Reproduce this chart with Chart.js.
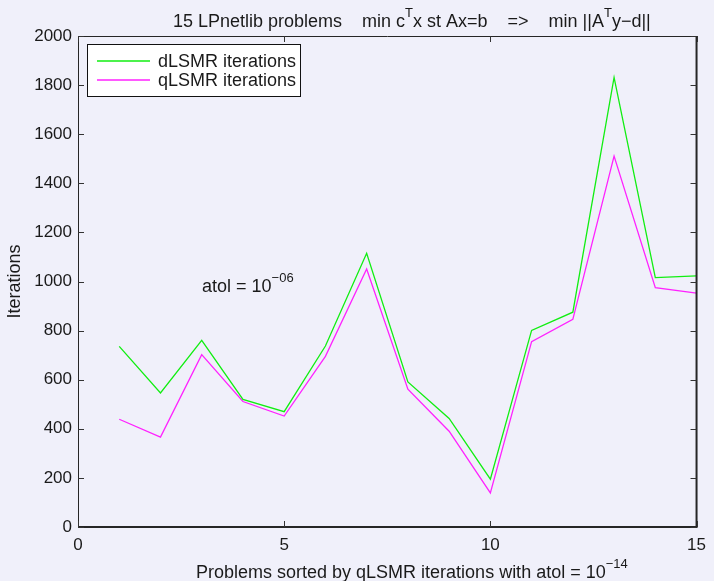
<!DOCTYPE html>
<html>
<head>
<meta charset="utf-8">
<script src="https://cdn.jsdelivr.net/npm/chart.js@4.4.1/dist/chart.umd.min.js"></script>
<style>
  html, body { margin: 0; padding: 0; background: #f0f0fa; }
  #wrap { width: 714px; height: 581px; position: relative; }
</style>
</head>
<body>
<div id="wrap"><canvas id="c" width="714" height="581"></canvas></div>
<script>
// ---- data ----
const problems = [1, 2, 3, 4, 5, 6, 7, 8, 9, 10, 11, 12, 13, 14, 15];
const dLSMR = [736, 546, 760, 520, 470, 737, 1115, 591, 442, 195, 801, 875, 1831, 1016, 1023];
const qLSMR = [439, 366, 702, 511, 452, 695, 1051, 561, 390, 139, 755, 846, 1511, 975, 953];
const seriesNames = ['dLSMR iterations', 'qLSMR iterations'];
const xTickValues = [0, 5, 10, 15];
const yTickValues = [0, 200, 400, 600, 800, 1000, 1200, 1400, 1600, 1800, 2000];
const titleParts = [['15 LPnetlib problems    min c', false], ['T', true], ['x st Ax=b    =>    min ||A', false], ['T', true], ['y\u2212d||', false]];
const xTitleParts = [['Problems sorted by qLSMR iterations with atol = 10', false], ['\u221214', true]];
const yTitle = 'Iterations';
const noteParts = [['atol = 10', false], ['\u221206', true]];

const FONT = '"Liberation Sans", Arial, Helvetica, sans-serif';
const INK = '#1a1a1a';

function drawParts(ctx, parts, x, y) {
  let cx = x;
  for (const [t, sup] of parts) {
    ctx.font = (sup ? '13px ' : '18px ') + FONT;
    ctx.fillText(t, cx, sup ? y - 10 : y);
    cx += ctx.measureText(t).width;
  }
}

const decor = {
  id: 'decor',
  afterDatasetsDraw(chart) {
    const ctx = chart.ctx, a = chart.chartArea;
    const xs = chart.scales.x, ys = chart.scales.y;
    ctx.save();
    // box
    ctx.strokeStyle = '#262626';
    ctx.lineWidth = 1;
    ctx.beginPath();
    ctx.moveTo(a.left + 0.5, a.bottom); ctx.lineTo(a.left + 0.5, a.top + 0.5); ctx.lineTo(a.right, a.top + 0.5);
    ctx.stroke();
    ctx.lineWidth = 2;
    ctx.beginPath();
    ctx.moveTo(a.left, a.bottom); ctx.lineTo(a.right, a.bottom); ctx.lineTo(a.right, a.top);
    ctx.stroke();
    // inward ticks
    ctx.lineWidth = 1;
    ctx.strokeStyle = '#333';
    ctx.beginPath();
    for (const v of xTickValues) {
      const px = Math.round(xs.getPixelForValue(v)) + 0.5;
      ctx.moveTo(px, a.bottom); ctx.lineTo(px, a.bottom - 6);
      ctx.moveTo(px, a.top); ctx.lineTo(px, a.top + 6);
    }
    for (const v of yTickValues) {
      const py = Math.round(ys.getPixelForValue(v)) + 0.5;
      ctx.moveTo(a.left, py); ctx.lineTo(a.left + 6, py);
      ctx.moveTo(a.right, py); ctx.lineTo(a.right - 6, py);
    }
    ctx.stroke();

    // legend box
    const lx = 87, ly = 44, lw = 213, lh = 52;
    ctx.fillStyle = '#ffffff';
    ctx.fillRect(lx, ly, lw, lh);
    ctx.strokeStyle = '#111';
    ctx.lineWidth = 1;
    ctx.strokeRect(lx + 0.5, ly + 0.5, lw, lh);
    chart.data.datasets.forEach((ds, i) => {
      const ry = 61 + i * 19;
      ctx.strokeStyle = ds.borderColor;
      ctx.lineWidth = 1.3;
      ctx.beginPath(); ctx.moveTo(97, ry); ctx.lineTo(150, ry); ctx.stroke();
      ctx.fillStyle = INK;
      ctx.font = '18px ' + FONT;
      ctx.textBaseline = 'middle';
      ctx.fillText(ds.label, 158, ry + 1);
    });

    // texts
    ctx.fillStyle = INK;
    ctx.textBaseline = 'alphabetic';
    ctx.textAlign = 'left';
    drawParts(ctx, titleParts, 173, 27);
    drawParts(ctx, xTitleParts, 196, 578);
    drawParts(ctx, noteParts, 202, 292);

    ctx.save();
    ctx.translate(15, (a.top + a.bottom) / 2);
    ctx.rotate(-Math.PI / 2);
    ctx.font = '18px ' + FONT;
    ctx.textAlign = 'center';
    ctx.textBaseline = 'middle';
    ctx.fillText(yTitle, 0, 0);
    ctx.restore();
    ctx.restore();
  }
};

new Chart(document.getElementById('c'), {
  type: 'line',
  data: {
    datasets: [
      { label: seriesNames[0], data: problems.map((p, i) => ({ x: p, y: dLSMR[i] })), borderColor: '#11ee11', borderWidth: 1.3, pointRadius: 0, tension: 0, fill: false },
      { label: seriesNames[1], data: problems.map((p, i) => ({ x: p, y: qLSMR[i] })), borderColor: '#ff22ff', borderWidth: 1.3, pointRadius: 0, tension: 0, fill: false }
    ]
  },
  options: {
    responsive: false,
    animation: false,
    layout: { padding: { left: 0, right: 15, top: 36, bottom: 0 } },
    plugins: { legend: { display: false }, tooltip: { enabled: false }, title: { display: false } },
    scales: {
      x: {
        type: 'linear', min: 0, max: 15,
        afterBuildTicks: s => { s.ticks = xTickValues.map(v => ({ value: v })); },
        grid: { display: false, drawTicks: false },
        border: { display: false },
        ticks: { color: INK, font: { family: FONT, size: 17 }, padding: 8, maxRotation: 0, callback: v => String(v) },
        afterFit: s => { s.height = 54; }
      },
      y: {
        type: 'linear', min: 0, max: 2000,
        afterBuildTicks: s => { s.ticks = yTickValues.map(v => ({ value: v })); },
        grid: { display: false, drawTicks: false },
        border: { display: false },
        ticks: { color: INK, font: { family: FONT, size: 17 }, padding: 6, callback: v => String(v) },
        afterFit: s => { s.width = 78; }
      }
    }
  },
  plugins: [decor]
});
</script>
</body>
</html>
